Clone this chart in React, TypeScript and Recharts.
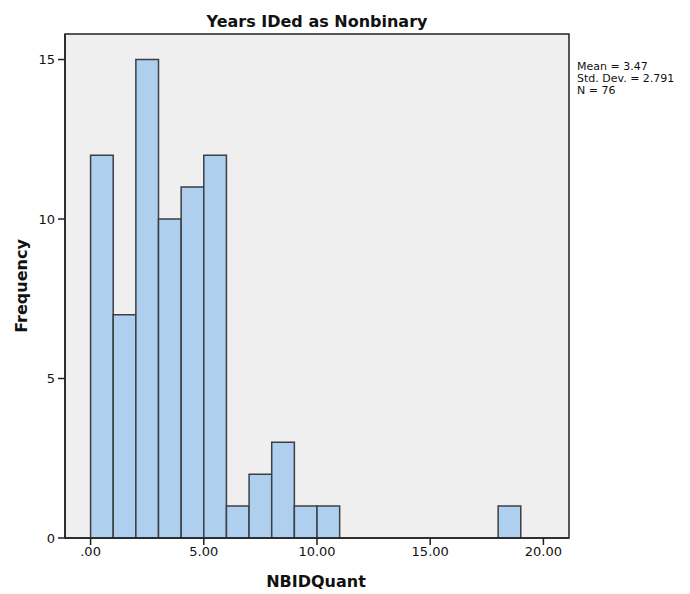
import React from "react";
import {
  ComposedChart,
  XAxis,
  YAxis,
  ReferenceArea,
  Line,
} from "recharts";

const binStarts = [0, 1, 2, 3, 4, 5, 6, 7, 8, 9, 10, 18];
const frequencies = [12, 7, 15, 10, 11, 12, 1, 2, 3, 1, 1, 1];
const binWidth = 1;
const xTicks = [0, 5, 10, 15, 20];
const yTicks = [0, 5, 10, 15];
const xDomain: [number, number] = [-1.13, 21.13];
const yDomain: [number, number] = [0, 15.8];
const statsLines = ["Mean = 3.47", "Std. Dev. = 2.791", "N = 76"];
const title = "Years IDed as Nonbinary";
const xTitle = "NBIDQuant";
const yTitle = "Frequency";

const bins = binStarts.map((s, i) => ({
  start: s,
  end: s + binWidth,
  mid: s + binWidth / 2,
  freq: frequencies[i],
}));

const FONT = "'DejaVu Sans', Verdana, sans-serif";
const fmtX = (v: number) => (v === 0 ? ".00" : v.toFixed(2));

export default function App() {
  return (
    <div style={{ position: "absolute", left: 0, top: 0, width: 690, height: 594, background: "#fff" }}>
      <ComposedChart
        width={690}
        height={594}
        data={bins}
        margin={{ top: 34, right: 121, bottom: 26, left: 25 }}
        style={{ fontFamily: FONT }}
      >
        <XAxis
          xAxisId="x"
          type="number"
          dataKey="mid"
          domain={xDomain}
          ticks={xTicks}
          tickFormatter={fmtX}
          allowDataOverflow
          height={30}
          tickSize={7}
          tickMargin={2}
          tick={{ fill: "#111", fontSize: 13, fontFamily: FONT }}
          axisLine={{ stroke: "#222", strokeWidth: 1.5 }}
          tickLine={{ stroke: "#222", strokeWidth: 1.5 }}
        />
        <YAxis
          yAxisId="y"
          type="number"
          domain={yDomain}
          ticks={yTicks}
          allowDataOverflow
          width={40}
          tickSize={7}
          tickMargin={3}
          tick={{ fill: "#111", fontSize: 13, fontFamily: FONT }}
          axisLine={{ stroke: "#222", strokeWidth: 1.5 }}
          tickLine={{ stroke: "#222", strokeWidth: 1.5 }}
        />
        <ReferenceArea
          xAxisId="x"
          yAxisId="y"
          x1={xDomain[0]}
          x2={xDomain[1]}
          y1={yDomain[0]}
          y2={yDomain[1]}
          fill="#efefef"
          fillOpacity={1}
          stroke="#222"
          strokeWidth={1.5}
          ifOverflow="visible"
        />
        {bins.map((b, i) => (
          <ReferenceArea
            key={i}
            xAxisId="x"
            yAxisId="y"
            x1={b.start}
            x2={b.end}
            y1={0}
            y2={b.freq}
            fill="#aecfee"
            fillOpacity={1}
            stroke="#3c3f44"
            strokeWidth={1.5}
            ifOverflow="visible"
          />
        ))}
        <Line
          xAxisId="x"
          yAxisId="y"
          dataKey="freq"
          stroke="none"
          dot={false}
          activeDot={false}
          isAnimationActive={false}
          legendType="none"
        />
        <text x={317} y={27} textAnchor="middle" fontFamily={FONT} fontWeight="bold" fontSize={16} fill="#111">
          {title}
        </text>
        <text x={316} y={587} textAnchor="middle" fontFamily={FONT} fontWeight="bold" fontSize={16} fill="#111">
          {xTitle}
        </text>
        <text
          x={27}
          y={286}
          textAnchor="middle"
          fontFamily={FONT}
          fontWeight="bold"
          fontSize={16}
          fill="#111"
          transform="rotate(-90 27 286)"
        >
          {yTitle}
        </text>
        {statsLines.map((s, i) => (
          <text key={i} x={577} y={70 + i * 12} fontFamily={FONT} fontSize={11} fill="#111">
            {s}
          </text>
        ))}
      </ComposedChart>
    </div>
  );
}
